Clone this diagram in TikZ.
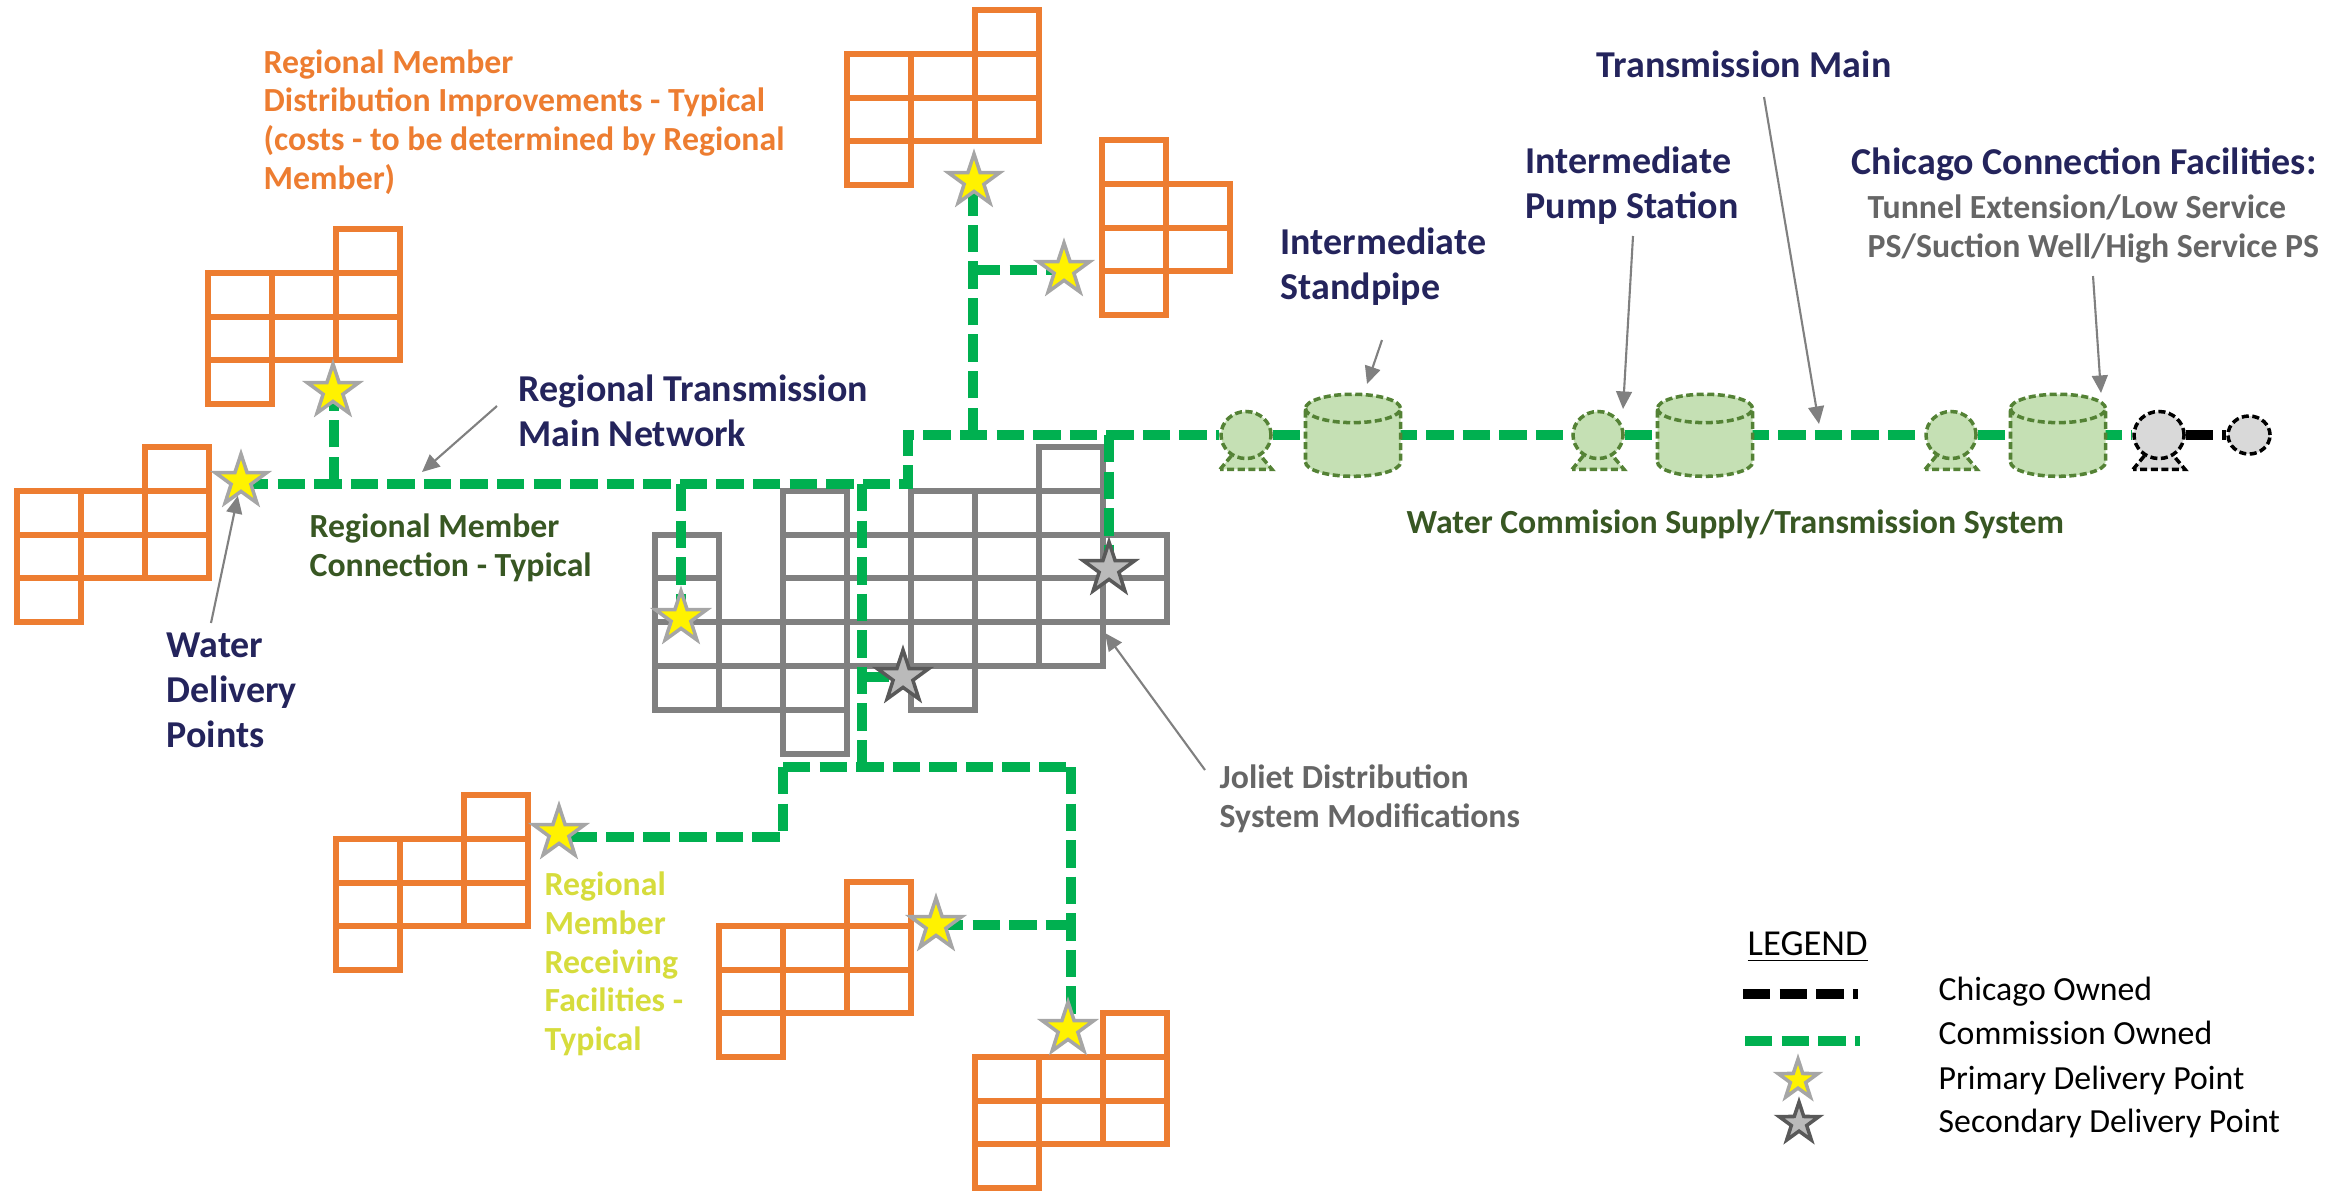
\documentclass[tikz,border=0pt]{standalone}
\usepackage{fontspec}
\setmainfont{Carlito}
\usetikzlibrary{shapes.geometric,arrows.meta,backgrounds}
\definecolor{blockorange}{HTML}{ED7D31}
\definecolor{pipegreen}{HTML}{00B050}
\definecolor{gridgrey}{HTML}{808080}
\definecolor{navytext}{HTML}{24245C}
\definecolor{darkgreen}{HTML}{385723}
\definecolor{plantfill}{HTML}{C5E0B4}
\definecolor{plantline}{HTML}{548235}
\definecolor{yellowtext}{HTML}{D6DC3C}
\tikzset{orangegrid/.style={draw=blockorange,line width=1.7pt}}
\tikzset{greygrid/.style={draw=gridgrey,line width=1.7pt}}
\tikzset{commpipe/.style={draw=pipegreen,line width=2.7pt,dash pattern=on 7.8pt off 2.6pt}}
\tikzset{chicpipe/.style={draw=black,line width=2.7pt,dash pattern=on 7.8pt off 2.6pt}}
\tikzset{dpstar/.style={star,star points=5,star point ratio=2.6,minimum size=0.54cm,inner sep=0pt,line width=1pt}}
\tikzset{primary/.style={dpstar,fill=yellow,draw=black!35}}
\tikzset{secondary/.style={dpstar,fill=black!27,draw=black!65}}
\tikzset{plant/.style={line width=1pt,dash pattern=on 2pt off 1pt,inner sep=0pt}}
\tikzset{pumpbody/.style={plant,ellipse,minimum width=0.5cm,minimum height=0.47cm}}
\tikzset{pumpbase/.style={plant,trapezium,trapezium left angle=62,trapezium right angle=62,trapezium stretches=true,minimum width=0.52cm,minimum height=0.16cm}}
\tikzset{tank/.style={plant,cylinder,shape border rotate=90,inner xsep=0.33cm,inner ysep=0pt,shape aspect=0.43,minimum width=0.95cm,minimum height=0.82cm,draw=plantline,fill=plantfill}}
\tikzset{callout/.style={draw=gridgrey,line width=0.6pt,-{Triangle[length=5pt,width=4.5pt]}}}
\tikzset{lbl/.style={anchor=west,align=left,inner sep=0pt}}
\tikzset{navylbl/.style={lbl,text=navytext,font=\bfseries\fontsize{10.8}{12.8}\selectfont}}
\tikzset{greenlbl/.style={lbl,text=darkgreen,font=\bfseries\fontsize{9.6}{11}\selectfont}}
\tikzset{greylbl/.style={lbl,text=black!60,font=\bfseries\fontsize{9.6}{11}\selectfont}}
\tikzset{legendlbl/.style={lbl,text=black,font=\fontsize{9.6}{11}\selectfont}}
% one regional member: cells given as column/row
\newcommand{\cellblock}[4]{
  \foreach \c/\r in {#4} {\draw[#3] ({#1+\c*64},{#2+\r*43.8}) rectangle ++(64,43.8);}
}
\newcommand{\memberblock}[2]{\cellblock{#1}{#2}{orangegrid}{2/0,0/1,1/1,2/1,0/2,1/2,2/2,0/3}}
\begin{document}
\begin{tikzpicture}[x=0.01cm,y=-0.01cm]
\useasboundingbox (0,0) rectangle (2343,1190);
% member blocks
\memberblock{17}{447}
\memberblock{208}{229}
\memberblock{847}{10}
\cellblock{1102}{140}{orangegrid}{0/0,0/1,1/1,0/2,1/2,0/3}
\memberblock{336}{795}
\memberblock{719}{882}
\memberblock{975}{1013}
% delivery points
\node[primary] (dpA) at (241,481) {};
\node[primary] (dpB) at (333,391) {};
\node[primary] (dpC) at (974,181) {};
\node[primary] (dpK) at (1064,270) {};
\node[primary] (dpG) at (681,618) {};
\node[primary] (dpD) at (559,833) {};
\node[primary] (dpE) at (936,925) {};
\node[primary] (dpF) at (1068,1029) {};
\node[secondary] (dpI) at (903,677) {};
\node[secondary] (dpJ) at (1109,569) {};
% pump stations and tanks
\foreach \name/\x in {pumpA/1246,pumpB/1598,pumpC/1951} {
  \node[pumpbase,draw=plantline,fill=plantfill] (\name base) at (\x,461) {\phantom{x}};
  \node[pumpbody,draw=plantline,fill=plantfill] (\name) at (\x,435) {};
}
\node[pumpbase,draw=black,fill=black!15] (pumpDbase) at (2159,461) {\phantom{x}};
\node[pumpbody,draw=black,fill=black!15] (pumpD) at (2159,435) {};
\node[pumpbody,draw=black,fill=black!15,minimum width=0.42cm,minimum height=0.38cm] (pumpE) at (2249,435) {};
\node[tank] (tankA) at (1353,450) {};
\node[tank] (tankB) at (1705,450) {};
\node[tank] (tankC) at (2058,450) {};
% pipe junctions
\coordinate (jWest) at (908,484);
\coordinate (jEast) at (908,435);
\coordinate (jB) at (334,484);
\coordinate (jG) at (681,484);
\coordinate (jS) at (862,484);
\coordinate (jT) at (862,767);
\coordinate (jU) at (783,767);
\coordinate (jV) at (1071,767);
\coordinate (jW) at (783,837);
\coordinate (jC) at (973,435);
\coordinate (jJ) at (1109,435);
\begin{scope}[on background layer]
\cellblock{655}{447}{greygrid}{6/0,2/1,4/1,5/1,6/1,0/2,2/2,3/2,4/2,5/2,6/2,7/2,0/3,2/3,3/3,4/3,5/3,6/3,7/3,0/4,1/4,2/4,3/4,4/4,5/4,6/4,0/5,1/5,2/5,4/5,2/6}
\draw[commpipe] (dpA.center |- jWest) -- (jWest) -- (jEast) -- (pumpA);
\draw[commpipe] (pumpA) -- (tankA |- pumpA);
\draw[commpipe] (tankA |- pumpA) -- (pumpB);
\draw[commpipe] (pumpB) -- (tankB |- pumpB);
\draw[commpipe] (tankB |- pumpB) -- (pumpC);
\draw[commpipe] (pumpC) -- (tankC |- pumpC);
\draw[commpipe] (tankC |- pumpC) -- (pumpD);
\draw[chicpipe] (pumpD) -- (pumpE);
\draw[commpipe] (jB) -- (jB |- dpB);
\draw[commpipe] (jG) -- (dpG.center);
\draw[commpipe] (jS) -- (jT);
\draw[commpipe] (jU) -- (jV);
\draw[commpipe] (jU) -- (jW) -- (dpD.center |- jW);
\draw[commpipe] (jV) -- (jV |- dpF);
\draw[commpipe] (dpE.center) -- (jV |- dpE);
\draw[commpipe] (jS |- dpI) -- (dpI.center);
\draw[commpipe] (jJ) -- (dpJ.center);
\draw[commpipe] (jC) -- (jC |- dpC);
\draw[commpipe] (jC |- dpK) -- (dpK.center);
\end{scope}
% labels
\node[lbl,text=blockorange,font=\bfseries\fontsize{9.6}{11}\selectfont] (lblImprove) at (263,122) {Regional Member\\Distribution Improvements - Typical\\(costs - to be determined by Regional\\Member)};
\node[navylbl] (lblNetwork) at (518,411) {Regional Transmission\\Main Network};
\node[greenlbl] (lblConn) at (309,548) {Regional Member\\Connection - Typical};
\node[navylbl] (lblWater) at (166,690) {Water\\Delivery\\Points};
\node[navylbl] (lblMain) at (1596,64) {Transmission Main};
\node[navylbl] (lblPump) at (1525,186) {Intermediate\\Pump Station};
\node[navylbl] (lblPipe) at (1280,267) {Intermediate\\Standpipe};
\node[navylbl] (lblChicago) at (1851,164) {Chicago Connection Facilities:};
\node[greylbl] (lblTunnel) at (1867,229) {Tunnel Extension/Low Service\\PS/Suction Well/High Service PS};
\node[greenlbl] (lblSystem) at (1406,524) {Water Commision Supply/Transmission System};
\node[greylbl] (lblJoliet) at (1219,799) {Joliet Distribution\\System Modifications};
\node[lbl,text=yellowtext,font=\bfseries\fontsize{9.6}{11}\selectfont] (lblReceive) at (544,964) {Regional\\Member\\Receiving\\Facilities -\\Typical};
% callouts
\coordinate (cNet) at (497,406);
\coordinate (cNetEnd) at (422,472);
\coordinate (cWater) at (211,623);
\coordinate (cJoliet) at (1205,770);
\coordinate (cJolietEnd) at (1105,633);
\coordinate (cPipe) at (1382,340);
\coordinate (cPipeEnd) at (1367,384);
\coordinate (cPump) at (1633,236);
\coordinate (cPumpEnd) at (1623,409);
\coordinate (cMain) at (1764,97);
\coordinate (cMainEnd) at (1819,424);
\coordinate (cChicago) at (2093,276);
\coordinate (cChicagoEnd) at (2101,393);
\draw[callout] (cNet) -- (cNetEnd);
\draw[callout] (cWater) -- (dpA);
\draw[callout] (cJoliet) -- (cJolietEnd);
\draw[callout] (cPipe) -- (cPipeEnd);
\draw[callout] (cPump) -- (cPumpEnd);
\draw[callout] (cMain) -- (cMainEnd);
\draw[callout] (cChicago) -- (cChicagoEnd);
% legend
\node[legendlbl,font=\fontsize{10.4}{11}\selectfont] (legTitle) at (1747,947) {\underline{LEGEND}};
\node[legendlbl] (legChicago) at (1938,992) {Chicago Owned};
\node[legendlbl] (legComm) at (1938,1033) {Commission Owned};
\node[legendlbl] (legPrimary) at (1938,1080) {Primary Delivery Point};
\node[legendlbl] (legSecondary) at (1938,1123) {Secondary Delivery Point};
\coordinate (legA) at (1743,994);
\coordinate (legB) at (1858,994);
\coordinate (legC) at (1745,1041);
\coordinate (legD) at (1860,1041);
\draw[chicpipe] (legA) -- (legB);
\draw[commpipe] (legC) -- (legD);
\node[primary,minimum size=0.42cm] (legStarA) at (1798,1080) {};
\node[secondary,minimum size=0.42cm] (legStarB) at (1799,1123) {};
\end{tikzpicture}
\end{document}
